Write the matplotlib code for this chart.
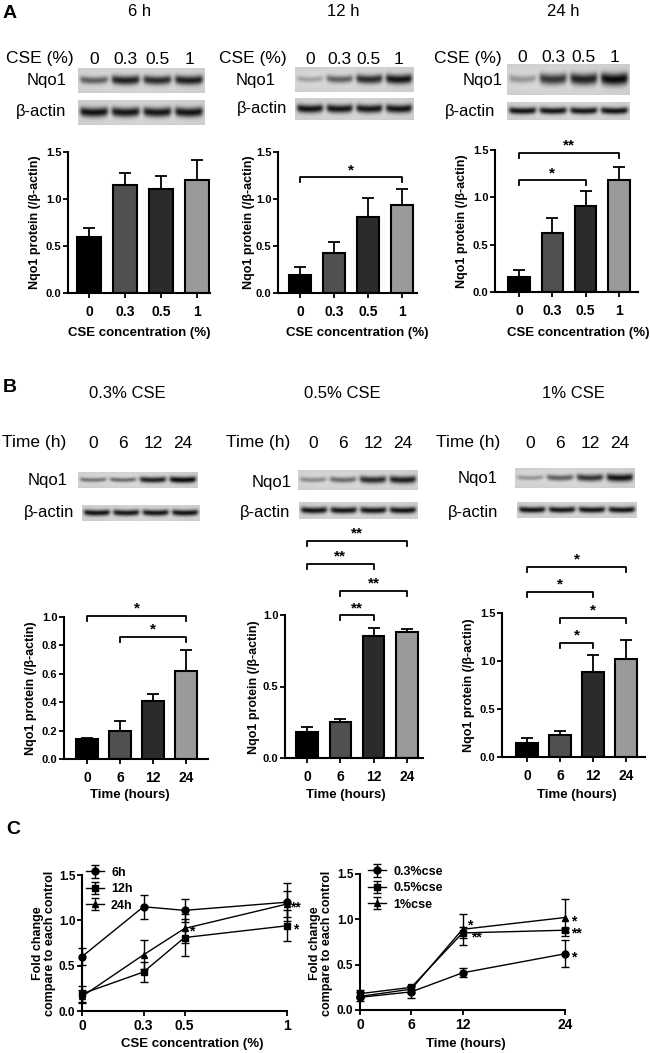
import numpy as np
import matplotlib
matplotlib.use("Agg")
import matplotlib.pyplot as plt
from matplotlib import transforms

plt.rcParams['font.family'] = ['Liberation Sans', 'DejaVu Sans']

W, H = 650, 1053

# ---------------- data ----------------
cse_labels = ["0", "0.3", "0.5", "1"]
time_labels = ["0", "6", "12", "24"]
cse_conc = [0, 0.3, 0.5, 1]
time_h = [0, 6, 12, 24]

# A: Nqo1/beta-actin vs CSE concentration, at 6, 12, 24 h
a6_mean = [0.60, 1.15, 1.11, 1.20]
a6_err = [0.09, 0.13, 0.13, 0.21]
a12_mean = [0.19, 0.43, 0.81, 0.94]
a12_err = [0.09, 0.11, 0.20, 0.17]
a24_mean = [0.16, 0.62, 0.91, 1.18]
a24_err = [0.07, 0.16, 0.16, 0.14]

# B: Nqo1/beta-actin vs time, at 0.3, 0.5, 1 % CSE
b03_mean = [0.14, 0.20, 0.41, 0.62]
b03_err = [0.01, 0.07, 0.05, 0.15]
b05_mean = [0.18, 0.25, 0.85, 0.88]
b05_err = [0.04, 0.02, 0.06, 0.025]
b1_mean = [0.15, 0.23, 0.89, 1.02]
b1_err = [0.05, 0.04, 0.17, 0.20]

# blot band strength per lane (0 none .. 1 saturated)
blot_a6 = [0.55, 0.85, 0.80, 0.85]
blot_a12 = [0.25, 0.55, 0.80, 0.90]
blot_a24 = [0.30, 0.75, 0.85, 0.95]
blot_b03 = [0.45, 0.50, 0.85, 0.95]
blot_b05 = [0.35, 0.50, 0.80, 0.85]
blot_b1 = [0.30, 0.55, 0.75, 0.90]
blot_actin = [0.90, 0.90, 0.90, 0.90]

# significance brackets: (lane from, lane to, height, stars)
sig_a6 = []
sig_a12 = [(0, 3, 1.23, "*")]
sig_a24 = [(0, 3, 1.47, "**"), (0, 2, 1.18, "*")]
sig_b03 = [(0, 3, 1.01, "*"), (1, 3, 0.86, "*")]
sig_b05 = [(0, 3, 1.52, "**"), (0, 2, 1.36, "**"), (1, 3, 1.17, "**"), (1, 2, 1.0, "**")]
sig_b1 = [(0, 3, 1.98, "*"), (0, 2, 1.72, "*"), (1, 3, 1.45, "*"), (1, 2, 1.19, "*")]

# C stars: (series index, point index, stars)
c1_names = ["6h", "12h", "24h"]
c1_stars = [(2, 3, "**"), (1, 3, "*"), (2, 2, "*")]
c2_names = ["0.3%cse", "0.5%cse", "1%cse"]
c2_stars = [(2, 2, "*"), (1, 2, "**"), (2, 3, "*"), (1, 3, "**"), (0, 3, "*")]

bar_colors = ["#000000", "#505050", "#2b2b2b", "#9a9a9a"]

fig = plt.figure(figsize=(W / 100, H / 100), dpi=100)


def px_ax(x0, y0, x1, y1):
    return fig.add_axes([x0 / W, 1 - y1 / H, (x1 - x0) / W, (y1 - y0) / H])


def ptext(x, y, s, **kw):
    kw.setdefault("ha", "center")
    kw.setdefault("va", "center")
    return fig.text(x / W, 1 - y / H, s, **kw)


def blot_image(levels, bg=0.86):
    xs = np.linspace(-0.5, 3.5, 260)
    ys = np.linspace(-1, 1, 60)
    X, Y = np.meshgrid(xs, ys)
    img = bg - 0.04 * (np.abs(Y) ** 2) - 0.02 * (np.abs(X - 1.5) / 2) ** 2
    for i, s in enumerate(levels):
        dx = X - i
        hor = 1 / (1 + np.exp((np.abs(dx) - 0.43) / 0.035))
        yc = -0.10 * (dx / 0.43) ** 2
        sig = 0.17 + 0.24 * s
        img = img - bg * s * hor * np.exp(-((Y - yc) / sig) ** 2)
    return np.clip(img, 0, 1)


def blot(box, levels):
    ax = px_ax(*box)
    ax.imshow(blot_image(levels), cmap="gray", vmin=0, vmax=1, aspect="auto",
              extent=(-0.5, 3.5, -1, 1), interpolation="bilinear")
    ax.set_xlim(-0.5, 3.5)
    ax.axis("off")
    return ax


def blot_panel(title, title_xy, row_name, row_xy, lanes, nqo_box, nqo_lv,
               act_box, nqo_lab, act_lab):
    ptext(*title_xy, title, fontsize=12)
    ptext(*row_xy, row_name, fontsize=12.5)
    ax = blot(nqo_box, nqo_lv)
    tr = transforms.blended_transform_factory(ax.transData, fig.transFigure)
    for i, lab in enumerate(lanes):
        ax.text(i, 1 - row_xy[1] / H, lab, transform=tr, ha="center", va="center",
                fontsize=12.5)
    blot(act_box, blot_actin)
    ptext(*nqo_lab, "Nqo1", fontsize=12)
    ptext(*act_lab, "β-actin", fontsize=12)


def style_axes(ax, xpad):
    for s in ["top", "right"]:
        ax.spines[s].set_visible(False)
    for s in ["left", "bottom"]:
        ax.spines[s].set_linewidth(1.5)
    ax.tick_params(axis="both", direction="out", length=3.5, width=1.3)
    ax.tick_params(axis="y", pad=1.2)
    ax.tick_params(axis="x", pad=xpad)


def bar_chart(box, c0, sp, mean, err, ylim, yticks, sigs, ticklabels):
    ax = px_ax(*box)
    x = np.arange(len(mean))
    ax.bar(x, mean, width=0.64, color=bar_colors, edgecolor="black", linewidth=1.5,
           zorder=2)
    ax.errorbar(x, mean, yerr=[np.zeros(len(err)), err], fmt="none", ecolor="black",
                elinewidth=1.3, capsize=4, capthick=1.3, zorder=1)
    ax.set_xlim((box[0] - c0) / sp, (box[2] - c0) / sp)
    ax.set_ylim(*ylim)
    ax.set_yticks(yticks)
    ax.set_yticklabels([f"{t:.1f}" for t in yticks], fontsize=8, fontweight="bold")
    ax.set_xticks(x)
    ax.set_xticklabels(ticklabels, fontsize=10, fontweight="bold")
    style_axes(ax, 5)
    hpx = box[3] - box[1]
    drop = 5 * (ylim[1] - ylim[0]) / hpx
    for i, j, y, lab in sigs:
        ax.plot([i, i, j, j], [y - drop, y, y, y - drop], color="black", lw=1.3,
                clip_on=False)
        ax.annotate(lab, ((i + j) / 2, y), xytext=(0, 0), textcoords="offset points",
                    ha="center", va="bottom", fontsize=11, fontweight="bold",
                    annotation_clip=False)
    return ax


# ---------------- panel A ----------------
ptext(10, 13, "A", fontsize=14, fontweight="bold")
blot_panel("6 h", (140, 12), "CSE (%)", (40, 59), cse_labels,
           (78, 68, 205, 93), blot_a6, (78, 100, 205, 125), (47, 81), (41, 112))
blot_panel("12 h", (343, 12), "CSE (%)", (253, 59), cse_labels,
           (295, 67, 413, 92), blot_a12, (295, 98, 413, 120), (256, 80), (262, 109))
blot_panel("24 h", (563, 12), "CSE (%)", (468, 58), cse_labels,
           (507, 64, 630, 95), blot_a24, (507, 102, 630, 120), (483, 81), (470, 112))

ya = [0.0, 0.5, 1.0, 1.5]
bar_chart((68, 152, 210, 293), 89, 36, a6_mean, a6_err, (0, 1.5), ya, sig_a6, cse_labels)
bar_chart((278, 152, 417, 293), 300, 34, a12_mean, a12_err, (0, 1.5), ya, sig_a12, cse_labels)
bar_chart((495, 150, 638, 292), 519, 33.3, a24_mean, a24_err, (0, 1.5), ya, sig_a24, cse_labels)
ylab = "Nqo1 protein (/β-actin)"
for x, y in [(35, 222), (249, 222), (462, 221)]:
    ptext(x, y, ylab, rotation=90, fontsize=9, fontweight="bold")
for x in [139, 357, 578]:
    ptext(x, 333, "CSE concentration (%)", fontsize=9.5, fontweight="bold")

# ---------------- panel B ----------------
ptext(10, 388, "B", fontsize=14, fontweight="bold")
blot_panel("0.3% CSE", (127, 394), "Time (h)", (34, 443), time_labels,
           (78, 472, 198, 488), blot_b03, (82, 505, 200, 521), (48, 481), (49, 513))
blot_panel("0.5% CSE", (342, 394), "Time (h)", (258, 443), time_labels,
           (298, 470, 418, 490), blot_b05, (299, 502, 418, 519), (272, 482), (265, 512))
blot_panel("1% CSE", (573, 394), "Time (h)", (468, 443), time_labels,
           (515, 468, 635, 488), blot_b1, (517, 502, 637, 518), (478, 478), (473, 512))

bar_chart((64, 617, 208, 759), 87, 33, b03_mean, b03_err, (0, 1.0),
          [0.0, 0.2, 0.4, 0.6, 0.8, 1.0], sig_b03, time_labels)
bar_chart((285, 615, 423, 758), 307, 33.3, b05_mean, b05_err, (0, 1.0),
          [0.0, 0.5, 1.0], sig_b05, time_labels)
bar_chart((502, 613, 645, 757), 527, 33, b1_mean, b1_err, (0, 1.5),
          [0.0, 0.5, 1.0, 1.5], sig_b1, time_labels)
for x, y in [(31, 688), (254, 687), (469, 685)]:
    ptext(x, y, ylab, rotation=90, fontsize=9, fontweight="bold")
for x in [130, 346, 577]:
    ptext(x, 795, "Time (hours)", fontsize=9.5, fontweight="bold")

# ---------------- panel C ----------------
ptext(13, 830, "C", fontsize=14, fontweight="bold")
markers = ["o", "s", "^"]


def line_chart(box, xs, means, errs, names, stars, star_off, xlim, xticks, xtl, leg_x):
    ax = px_ax(*box)
    handles = []
    for m, e, mk, nm in zip(means, errs, markers, names):
        h = ax.errorbar(xs, m, yerr=e, color="black", marker=mk, markersize=5,
                        lw=1.0, elinewidth=1.0, capsize=3, capthick=1.0,
                        clip_on=False, label=nm)
        handles.append(h)
    for (si, pi, lab), (dx, dy) in zip(stars, star_off):
        ax.annotate(lab, (xs[pi], means[si][pi]), xytext=(dx, dy),
                    textcoords="offset points", ha="left", va="center",
                    fontsize=10, fontweight="bold", annotation_clip=False)
    ax.set_xlim(*xlim)
    ax.set_ylim(0, 1.5)
    ax.set_xticks(xticks)
    ax.set_xticklabels(xtl, fontsize=10, fontweight="bold")
    ax.set_yticks([0.0, 0.5, 1.0, 1.5])
    ax.set_yticklabels(["0.0", "0.5", "1.0", "1.5"], fontsize=8.5, fontweight="bold")
    style_axes(ax, 2.5)
    ax.legend(handles=handles, loc="upper left", bbox_to_anchor=(leg_x, 1.06),
              frameon=False, borderpad=0, borderaxespad=0, handlelength=1.4,
              handletextpad=0.6, labelspacing=0.35,
              prop={"weight": "bold", "size": 9})
    return ax


line_chart((82, 875, 287, 1011), cse_conc, [a6_mean, a12_mean, a24_mean],
           [a6_err, a12_err, a24_err], c1_names, c1_stars,
           [(2, -2.5), (4, -2.5), (3, -2)], (0, 1), cse_conc, cse_labels, 0.02)
line_chart((360, 874, 565, 1010), time_h, [b03_mean, b05_mean, b1_mean],
           [b03_err, b05_err, b1_err], c2_names, c2_stars,
           [(3, 3), (6, -3), (4, -2.5), (4.5, -2.5), (4.5, -2.5)],
           (0, 24), time_h, time_labels, 0.04)
for x in [44, 321]:
    ptext(x, 943, "Fold change\ncompare to each control", rotation=90, fontsize=9,
          fontweight="bold", linespacing=1.05)
ptext(192, 1044, "CSE concentration (%)", fontsize=9.5, fontweight="bold")
ptext(466, 1044, "Time (hours)", fontsize=9.5, fontweight="bold")

fig.savefig("out.png", dpi=100)
